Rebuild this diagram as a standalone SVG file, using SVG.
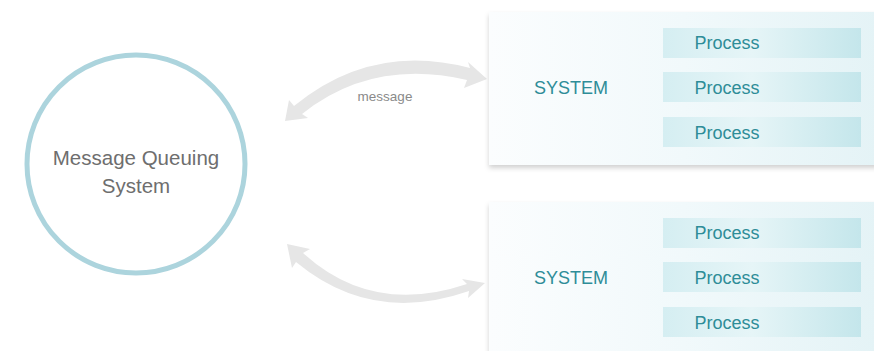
<svg xmlns="http://www.w3.org/2000/svg" width="874" height="351" viewBox="0 0 874 351">
<defs>
<style>
.lbl{font-family:"Liberation Sans",Arial,sans-serif;}
.proc{font-family:"Liberation Sans",Arial,sans-serif;font-size:18px;fill:#2e8d98;text-anchor:middle;}
.sys{font-family:"Liberation Sans",Arial,sans-serif;font-size:18px;fill:#2e8d98;text-anchor:middle;}
.bar{fill:url(#barg);}
.panel{fill:url(#panelg);filter:url(#sh);}
.arr{fill:#e6e6e6;stroke:none;}
</style>
<linearGradient id="panelg" x1="0" y1="0" x2="1" y2="0">
<stop offset="0" stop-color="#fbfdfe"/>
<stop offset="0.5" stop-color="#f1f9fb"/>
<stop offset="1" stop-color="#e4f3f6"/>
</linearGradient>
<linearGradient id="barg" x1="0" y1="0" x2="1" y2="0">
<stop offset="0" stop-color="#d5eef2"/>
<stop offset="0.45" stop-color="#e6f5f7"/>
<stop offset="1" stop-color="#c4e6eb"/>
</linearGradient>
<filter id="sh" x="-5%" y="-10%" width="110%" height="125%">
<feDropShadow dx="0" dy="3" stdDeviation="2.5" flood-color="#000" flood-opacity="0.18"/>
</filter>
</defs>
<rect width="874" height="351" fill="#ffffff"/>
<g id="connectors">
<path class="arr" d="M 285 121 L 289 100 L 294 106 Q 372 42 470 68 L 468 62 L 487 79 L 464 88 L 467 80 Q 372 58 302 114 L 308 118 Z"/>
<path class="arr" d="M 287 244 L 310 249 L 303 253 Q 372 316 467 284 L 462 279 L 485 283 L 468 298 L 469 291 Q 372 325 296 262 L 292 268 Z"/>
<text class="lbl" x="385" y="101" font-size="13.5" fill="#8a8a8a" text-anchor="middle">message</text>
</g>
<g id="mqs">
<circle cx="136" cy="164" r="109" fill="#ffffff" stroke="#acd4dd" stroke-width="5"/>
<text class="lbl" x="136" y="165" font-size="20.5" fill="#6e6e6e" text-anchor="middle">Message Queuing</text>
<text class="lbl" x="136" y="193" font-size="20.5" fill="#6e6e6e" text-anchor="middle">System</text>
</g>
<g id="system1">
<rect class="panel" x="489" y="12" width="390" height="153"/>
<text class="sys" x="571" y="94">SYSTEM</text>
<rect class="bar" x="663" y="28" width="198" height="30"/>
<rect class="bar" x="663" y="72" width="198" height="30"/>
<rect class="bar" x="663" y="117" width="198" height="30"/>
<text class="proc" x="727" y="49">Process</text>
<text class="proc" x="727" y="94">Process</text>
<text class="proc" x="727" y="139">Process</text>
</g>
<g id="system2">
<rect class="panel" x="489" y="202" width="390" height="153"/>
<text class="sys" x="571" y="284">SYSTEM</text>
<rect class="bar" x="663" y="218" width="198" height="30"/>
<rect class="bar" x="663" y="262" width="198" height="30"/>
<rect class="bar" x="663" y="307" width="198" height="30"/>
<text class="proc" x="727" y="239">Process</text>
<text class="proc" x="727" y="284">Process</text>
<text class="proc" x="727" y="329">Process</text>
</g>
</svg>
